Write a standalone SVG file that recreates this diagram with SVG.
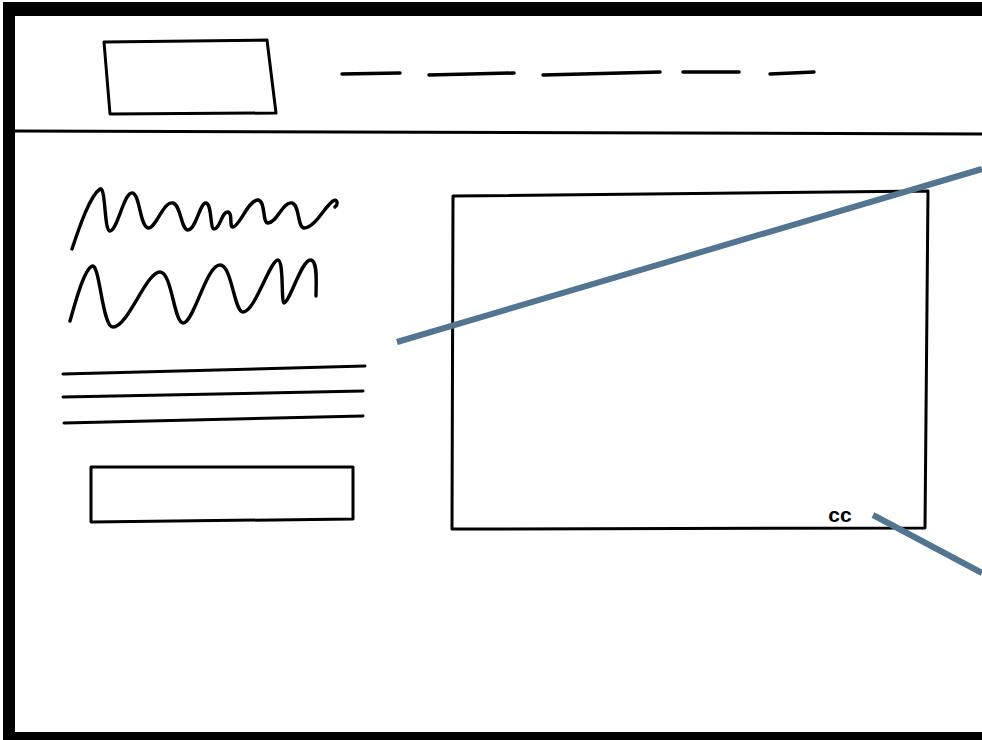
<svg xmlns="http://www.w3.org/2000/svg" width="982" height="740" viewBox="0 0 982 740">
<style>
.ink{fill:none;stroke:#000;stroke-width:3;stroke-linecap:round;stroke-linejoin:round}
.sq{fill:none;stroke:#000;stroke-width:3.4;stroke-linecap:round;stroke-linejoin:round}
.dash{fill:none;stroke:#000;stroke-width:3.5;stroke-linecap:round}
.conn{fill:none;stroke:#537591;stroke-width:6;stroke-linecap:butt}
.lbl{font-family:"Liberation Sans",Arial,sans-serif;font-weight:bold;font-size:21px;fill:#000}
</style>
<rect x="0" y="0" width="982" height="740" fill="#fff"/>
<g id="frame">
<path d="M3 2 H982 V740 H3 Z M15 16 V732 H982 V16 Z" fill="#000" fill-rule="evenodd"/>
<path d="M15 131 L982 134" class="ink"/>
</g>
<g id="logo">
<path d="M104 42 L267 40 L276 113 L110 114 Z" class="ink"/>
</g>
<g id="nav">
<path d="M342 74 L400 73" class="dash"/>
<path d="M429 75 L514 73" class="dash"/>
<path d="M543 75 L660 72" class="dash"/>
<path d="M683 72 L739 72" class="dash"/>
<path d="M770 74 L814 72" class="dash"/>
</g>
<g id="headline">
<path d="M72 249 C80 225 90 196 100 189 C106 186 104 232 110 231 C118 230 124 190 133 193 C140 196 140 226 148 228 C156 229 163 201 173 203 C181 205 181 230 188 230 C196 230 200 202 206 203 C212 204 210 229 214 229 C220 229 222 211 228 212 C233 213 229 228 233 227 C240 226 248 200 258 200 C266 201 262 223 268 223 C277 223 283 201 292 203 C300 205 297 227 304 228 C315 228 325 206 333 201 C338 198 338 205 335 207" class="sq"/>
<path d="M70 321 C76 300 84 270 92 266 C100 263 102 327 113 327 C128 327 146 272 160 272 C172 272 174 323 183 323 C194 323 206 265 220 265 C232 265 234 312 243 312 C255 312 270 260 278 260 C284 261 281 303 284 303 C290 302 302 258 311 260 C318 262 316 282 316 296" class="sq"/>
</g>
<g id="text-lines">
<path d="M63 374 L365 366" class="ink"/>
<path d="M63 397 L363 391" class="ink"/>
<path d="M64 423 L363 416" class="ink"/>
</g>
<g id="button">
<path d="M91 467 L353 467 L353 519 L91 522 Z" class="ink"/>
</g>
<g id="video">
<path d="M453 196 L928 191 L925 528 L452 529 Z" class="ink"/>
<text x="840" y="522" text-anchor="middle" class="lbl">cc</text>
</g>
<g id="connectors">
<path d="M397 342 L982 169" class="conn"/>
<path d="M873 515 L982 573" class="conn"/>
</g>
</svg>
